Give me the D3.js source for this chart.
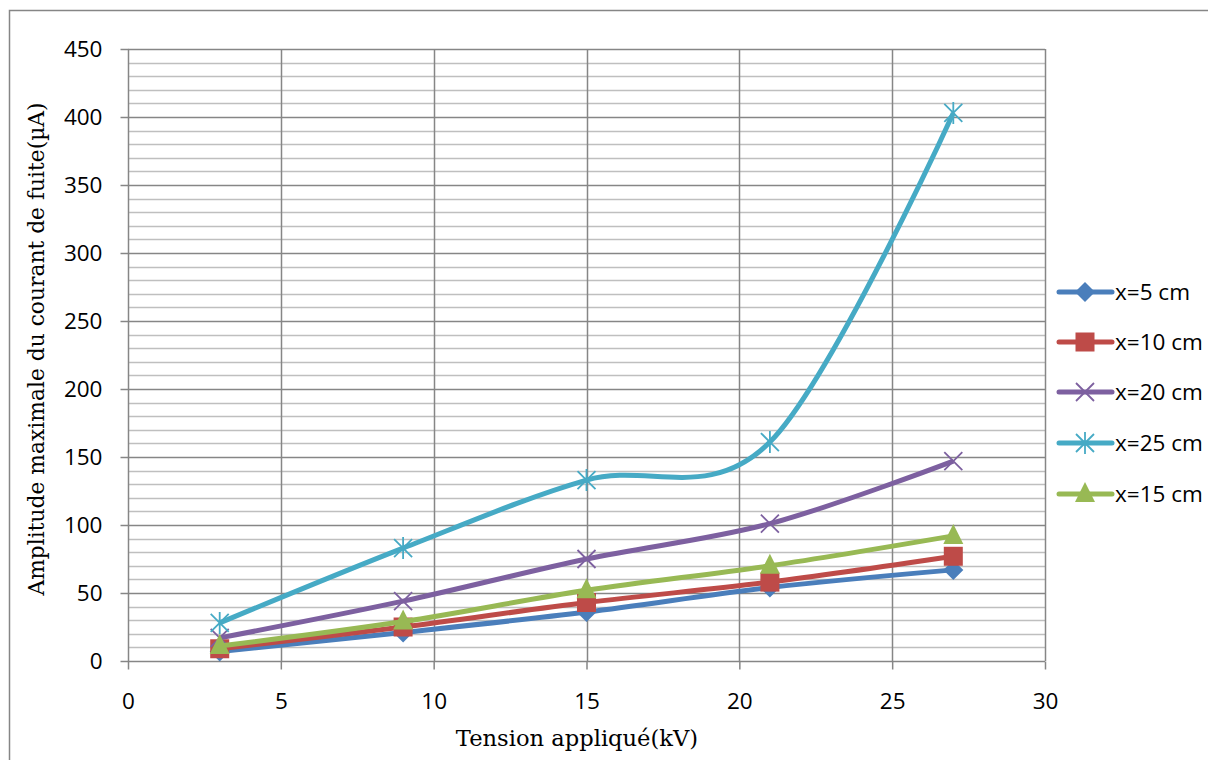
<!DOCTYPE html>
<html><head><meta charset="utf-8">
<script src="https://cdn.jsdelivr.net/npm/d3@7"></script>
<style>body{margin:0;background:#fff}svg{display:block}</style>
</head><body>
<svg id="c" width="1208" height="760"></svg>
<script>
const xValues = [3, 9, 15, 21, 27];
const seriesNames = ["x=5 cm", "x=10 cm", "x=20 cm", "x=25 cm", "x=15 cm"];
const s5 = [7, 21, 36, 54, 67];
const s10 = [9, 25, 43, 58, 77];
const s20 = [17, 44, 75, 101, 147];
const s25 = [28, 83, 133, 161, 403];
const s15 = [11, 29, 52, 70, 92];
const xTicks = [0, 5, 10, 15, 20, 25, 30];
const yTicks = [0, 50, 100, 150, 200, 250, 300, 350, 400, 450];
const xTitle = "Tension appliqué(kV)";
const yTitle = "Amplitude maximale du courant de fuite(µA)";

const colors = ["#4A7EBB", "#BE4B48", "#7D60A0", "#46AAC5", "#98B954"];
const markers = ["diamond", "square", "x", "star", "triangle"];
const seriesData = [s5, s10, s20, s25, s15];

const sans = "'Open Sans', 'Noto Sans', sans-serif";
const serif = "'DejaVu Serif', 'Liberation Serif', serif";

const svg = d3.select("#c");
// outer frame
svg.append("rect").attr("x", 9.5).attr("y", 10.5).attr("width", 1210).attr("height", 760)
  .attr("fill", "none").attr("stroke", "#868686").attr("stroke-width", 1.5);

const L = 128, R = 1045, T = 49, B = 661;
const x = d3.scaleLinear().domain([0, 30]).range([L, R]);
const y = d3.scaleLinear().domain([0, 450]).range([B, T]);

// minor gridlines
const minor = d3.range(10, 450, 10).filter(v => v % 50 !== 0);
svg.append("g").selectAll("line").data(minor).join("line")
  .attr("x1", L).attr("x2", R).attr("y1", d => Math.round(y(d)) + 0.5).attr("y2", d => Math.round(y(d)) + 0.5)
  .attr("stroke", "#bfbfbf").attr("stroke-width", 1.5);
// major horizontal
svg.append("g").selectAll("line").data(yTicks.filter(v => v > 0)).join("line")
  .attr("x1", L).attr("x2", R).attr("y1", d => Math.round(y(d)) + 0.5).attr("y2", d => Math.round(y(d)) + 0.5)
  .attr("stroke", "#868686").attr("stroke-width", 1.5);
// vertical
svg.append("g").selectAll("line").data(xTicks.filter(v => v > 0)).join("line")
  .attr("y1", T).attr("y2", B).attr("x1", d => Math.round(x(d)) + 0.5).attr("x2", d => Math.round(x(d)) + 0.5)
  .attr("stroke", "#868686").attr("stroke-width", 1.5);

// axes
const yAxis = d3.axisLeft(y).tickValues(yTicks).tickSize(8).tickPadding(18);
const gy = svg.append("g").attr("transform", `translate(${L + 0.5},0)`).call(yAxis);
const xAxis = d3.axisBottom(x).tickValues(xTicks).tickSize(8).tickPadding(24);
const gx = svg.append("g").attr("transform", `translate(0,${B + 0.5})`).call(xAxis);
[gx, gy].forEach(g => {
  g.selectAll("path.domain").attr("stroke", "#868686").attr("stroke-width", 1.5);
  g.selectAll(".tick line").attr("stroke", "#868686").attr("stroke-width", 1.5);
  g.selectAll("text").attr("font-family", sans).attr("font-size", 22.5).attr("fill", "#000");
});
gx.select("path.domain").attr("d", `M${L},0H${R}`);
gy.select("path.domain").attr("d", `M0,${T}V${B}`);

// titles
svg.append("text").attr("x", 577).attr("y", 746).attr("text-anchor", "middle")
  .attr("font-family", serif).attr("font-size", 22.6).attr("fill", "#000").text(xTitle);
svg.append("text").attr("transform", `translate(44,349) rotate(-90)`).attr("text-anchor", "middle")
  .attr("font-family", serif).attr("font-size", 21.8).attr("fill", "#000").text(yTitle);

function drawMarker(g, type, color, cx, cy) {
  if (type === "diamond") {
    g.append("path").attr("d", `M${cx},${cy-10}L${cx+10},${cy}L${cx},${cy+10}L${cx-10},${cy}Z`).attr("fill", color);
  } else if (type === "square") {
    g.append("rect").attr("x", cx - 9.5).attr("y", cy - 9.5).attr("width", 19).attr("height", 19).attr("fill", color);
  } else if (type === "triangle") {
    g.append("path").attr("d", `M${cx},${cy-12}L${cx+10},${cy+8}L${cx-10},${cy+8}Z`).attr("fill", color);
  } else if (type === "x") {
    g.append("path").attr("d", `M${cx-9},${cy-9}L${cx+9},${cy+9}M${cx-9},${cy+9}L${cx+9},${cy-9}`)
      .attr("stroke", color).attr("stroke-width", 1.8).attr("fill", "none");
  } else if (type === "star") {
    g.append("path").attr("d", `M${cx-9},${cy-9}L${cx+9},${cy+9}M${cx-9},${cy+9}L${cx+9},${cy-9}M${cx},${cy-11}L${cx},${cy+11}`)
      .attr("stroke", color).attr("stroke-width", 1.8).attr("fill", "none");
  }
}

const line = d3.line().x(d => x(d[0])).y(d => y(d[1])).curve(d3.curveCatmullRom.alpha(0));
const plot = svg.append("g");
seriesData.forEach((vals, i) => {
  const pts = xValues.map((xv, j) => [xv, vals[j]]);
  plot.append("path").datum(pts).attr("d", line).attr("fill", "none")
    .attr("stroke", colors[i]).attr("stroke-width", 5).attr("stroke-linejoin", "round");
  pts.forEach(p => drawMarker(plot, markers[i], colors[i], x(p[0]), y(p[1])));
});

// legend
const legY = [292, 342, 392, 443, 494];
const leg = svg.append("g");
seriesNames.forEach((name, i) => {
  leg.append("line").attr("x1", 1059).attr("x2", 1112).attr("y1", legY[i]).attr("y2", legY[i])
    .attr("stroke", colors[i]).attr("stroke-width", 5).attr("stroke-linecap", "round");
  drawMarker(leg, markers[i], colors[i], 1085, legY[i]);
  leg.append("text").attr("x", 1115).attr("y", legY[i] + 8).attr("font-family", sans)
    .attr("font-size", 22.5).attr("fill", "#000").text(name);
});
</script>
</body></html>
